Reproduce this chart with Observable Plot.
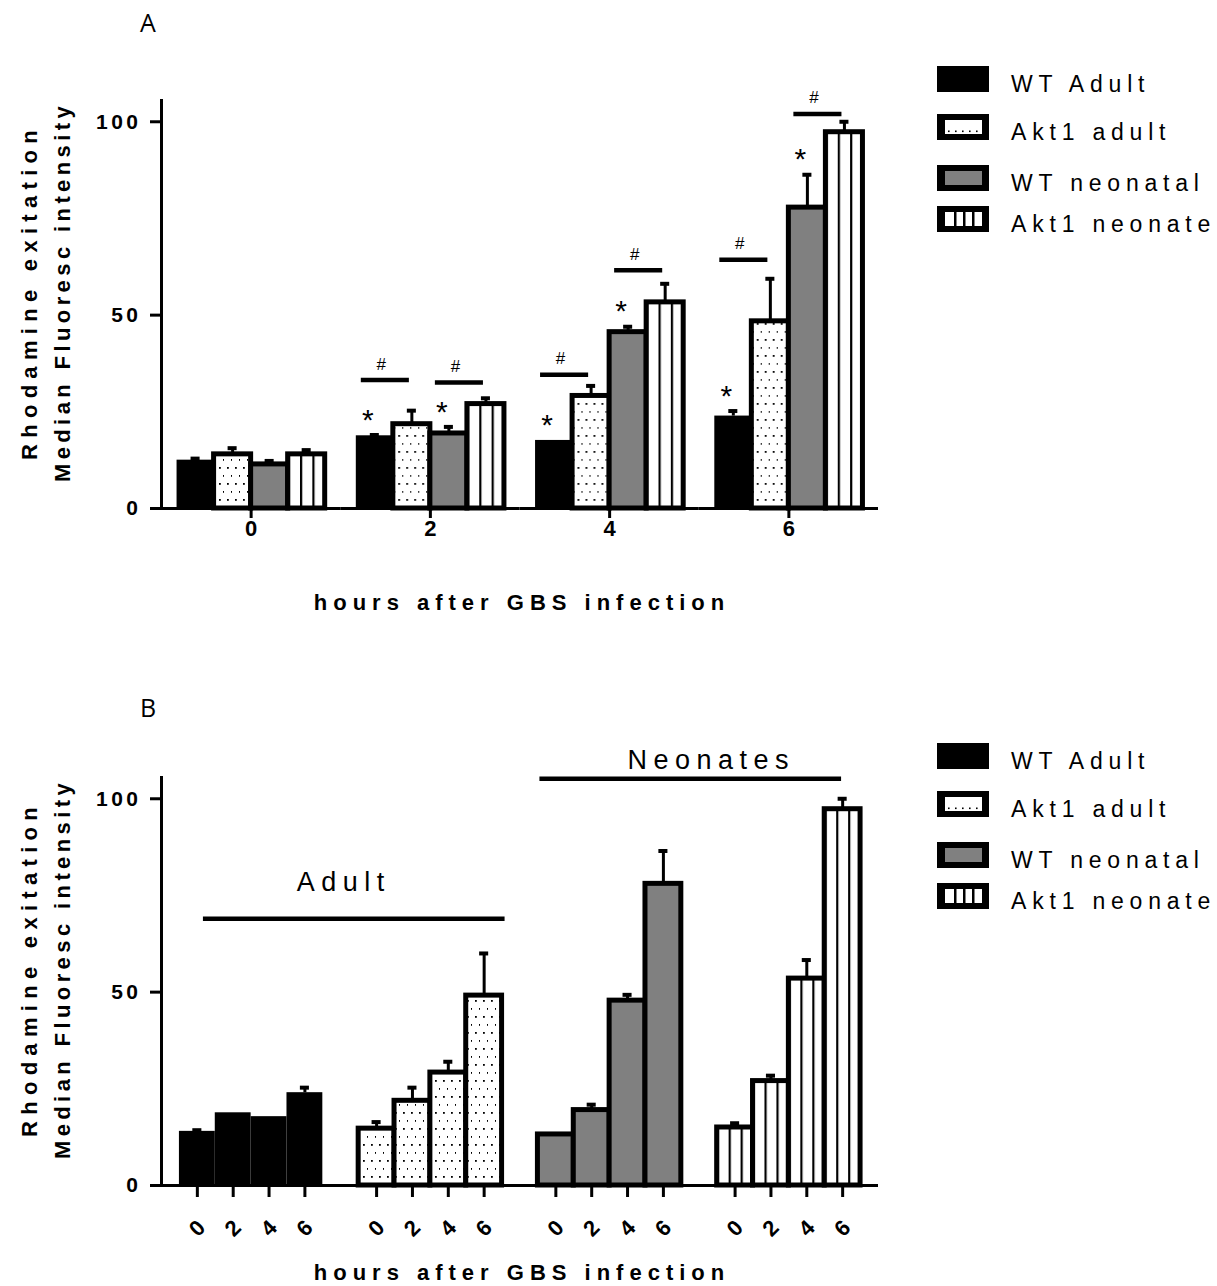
<!DOCTYPE html>
<html>
<head>
<meta charset="utf-8">
<script src="https://cdn.jsdelivr.net/npm/d3@7"></script>
<script src="https://cdn.jsdelivr.net/npm/@observablehq/plot@0.6"></script>
<style>
  html, body { margin: 0; padding: 0; background: #fff; }
  #root { position: relative; width: 1217px; height: 1286px; overflow: hidden; background: #fff; }
  #root > svg { position: absolute; left: 0; }
  svg text { font-family: "Liberation Sans", Arial, sans-serif; }
  g[aria-label="y-axis tick label"] { font-size: 21px; font-weight: bold; letter-spacing: 3.5px; }
  g[aria-label="fx-axis tick label"], g[aria-label="x-axis tick label"] { font-size: 22px; font-weight: bold; }
  #overlay { position: absolute; left: 0; top: 0; pointer-events: none; }
</style>
</head>
<body>
<svg width="0" height="0" style="position:absolute">
  <defs>
    <pattern id="dots" patternUnits="userSpaceOnUse" width="8" height="16">
      <rect width="8" height="16" fill="#fff"></rect>
      <rect x="3" y="3" width="1.8" height="1.8" fill="#000"></rect>
      <rect x="7" y="11" width="1.8" height="1.8" fill="#000"></rect>
    </pattern>
    <pattern id="vlines" patternUnits="objectBoundingBox" width="0.33333" height="1">
      <rect width="200" height="3000" fill="#fff"></rect>
      <rect x="0" width="2.2" height="3000" fill="#000"></rect>
    </pattern>
  </defs>
</svg>
<div id="root"></div>
<script>
// ---------------- data ----------------
const series = ["WT Adult", "Akt1 adult", "WT neonatal", "Akt1 neonate"];
const hours = [0, 2, 4, 6];
const yTicks = [0, 50, 100];

// Panel A: means and SEM (rows = series, columns = hours)
const meansA = [
  [12.5, 18.8, 17.6, 23.9],
  [14.0, 21.8, 29.1, 48.4],
  [11.4, 19.4, 45.6, 77.8],
  [14.0, 27.0, 53.3, 97.3]
];
const errorsA = [
  [0.4, 0.2, 0.0, 1.3],
  [1.6, 3.5, 2.6, 11.0],
  [0.9, 1.7, 1.4, 8.5],
  [1.1, 1.5, 4.8, 2.7]
];
// significance marks, panel A
const starsA = [
  ["WT Adult", 2], ["WT neonatal", 2],
  ["WT Adult", 4], ["WT neonatal", 4],
  ["WT Adult", 6], ["WT neonatal", 6]
];
const hashA = [
  {hours: 2, from: "WT Adult", to: "Akt1 adult", y: 33.2},
  {hours: 2, from: "WT neonatal", to: "Akt1 neonate", y: 32.6},
  {hours: 4, from: "WT Adult", to: "Akt1 adult", y: 34.6},
  {hours: 4, from: "WT neonatal", to: "Akt1 neonate", y: 61.6},
  {hours: 6, from: "WT Adult", to: "Akt1 adult", y: 64.3},
  {hours: 6, from: "WT neonatal", to: "Akt1 neonate", y: 102.0}
];

// Panel B: means and SEM (rows = series, columns = hours)
const meansB = [
  [14.0, 18.8, 17.8, 24.0],
  [14.7, 21.9, 29.2, 49.1],
  [13.2, 19.5, 47.8, 78.0],
  [15.0, 27.0, 53.5, 97.3]
];
const errorsB = [
  [0.3, 0.0, 0.0, 1.3],
  [1.7, 3.4, 2.8, 10.9],
  [0.0, 1.4, 1.5, 8.5],
  [1.1, 1.4, 4.8, 2.7]
];
const groupsB = [
  {label: "Adult", from: "WT Adult|0", to: "Akt1 adult|6", mid: "gap1", lineY: 69.0, textY: 76.2},
  {label: "Neonates", from: "WT neonatal|0", to: "Akt1 neonate|6", mid: "gap3", lineY: 105.2, textY: 107.8}
];

const yTitle = ["Rhodamine exitation", "Median Fluoresc intensity"];
const xTitle = "hours after GBS infection";
const panelLetters = ["A", "B"];

// ---------------- styles ----------------
const fills = {"WT Adult": "#000", "Akt1 adult": "url(#dots)", "WT neonatal": "#808080", "Akt1 neonate": "url(#vlines)"};
const font = '"Liberation Sans", Arial, sans-serif';
const panelOffset = 677;

// ---------------- helpers ----------------
function rowsFrom(means, errors) {
  return series.flatMap((s, si) => hours.map((h, hi) => ({
    series: s, hours: h, key: `${s}|${h}`, mean: means[si][hi], err: errors[si][hi]
  })));
}
const topOf = d => d.mean + d.err;

function barMarks(rows, xKey, facet, capInset) {
  const f = facet ? {fx: "hours"} : {};
  const withErr = rows.filter(d => d.err > 0);
  return [
    Plot.barY(rows.filter(d => d.series === series[0]), {...f, x: xKey, y: "mean", fill: "series"}),
    Plot.barY(rows.filter(d => d.series !== series[0]), {...f, x: xKey, y: "mean", fill: "series", stroke: "#000", strokeWidth: 5}),
    Plot.ruleX(withErr, {...f, x: xKey, y1: "mean", y2: topOf, stroke: "#000", strokeWidth: 3}),
    Plot.tickY(withErr, {...f, x: xKey, y: topOf, stroke: "#000", strokeWidth: 4, inset: capInset})
  ];
}
const colorScale = {type: "ordinal", domain: series, range: series.map(s => fills[s])};
const axisYMark = () => Plot.axisY({ticks: yTicks, tickSize: 11, tickPadding: 9, strokeWidth: 3, fontSize: 21, fontWeight: "bold", label: null});

// ---------------- panel A ----------------
const rowsA = rowsFrom(meansA, errorsA);
const starRowsA = starsA.map(([s, h]) => rowsA.find(d => d.series === s && d.hours === h));

const plotA = Plot.plot({
  width: 900, height: 553,
  marginLeft: 161, marginRight: 22, marginTop: 100, marginBottom: 45,
  fx: {domain: hours, padding: 0, round: false, label: null},
  x: {domain: series, paddingInner: 0, paddingOuter: 0.42, round: false, axis: null},
  y: {domain: [0, 105.5], label: null},
  color: colorScale,
  marks: [
    ...barMarks(rowsA, "series", true, 14),
    Plot.ruleY([0], {stroke: "#000", strokeWidth: 3}),
    Plot.frame({anchor: "left", stroke: "#000", strokeWidth: 3, facetAnchor: "left"}),
    axisYMark(),
    Plot.axisFx({anchor: "bottom", tickSize: 10, tickPadding: 2, strokeWidth: 3, fontSize: 22, fontWeight: "bold", label: null}),
    Plot.text(starRowsA, {fx: "hours", x: "series", y: topOf, text: () => "*", fontSize: 30, dx: -7, dy: -15}),
    Plot.ruleY(hashA, {fx: "hours", x1: "from", x2: "to", y: "y", stroke: "#000", strokeWidth: 4.5, insetLeft: 5, insetRight: 21}),
    Plot.text(hashA, {fx: "hours", x: "from", y: "y", text: () => "#", fontSize: 17, dx: 6.5, dy: -16})
  ]
});

// ---------------- panel B ----------------
const rowsB = rowsFrom(meansB, errorsB);
const keysB = series.flatMap((s, i) => (i ? [`gap${i}`] : []).concat(hours.map(h => `${s}|${h}`)));
const groupInsets = [[24, -3], [2, 19]];
const groupDx = [3, 12];

const plotB = Plot.plot({
  width: 900, height: 570,
  marginLeft: 161, marginRight: 22, marginTop: 100, marginBottom: 62,
  x: {domain: keysB, paddingInner: 0, paddingOuter: 0.5, round: false, axis: null},
  y: {domain: [0, 105.5], label: null},
  color: colorScale,
  marks: [
    ...barMarks(rowsB, "key", false, 13.4),
    Plot.ruleY([0], {stroke: "#000", strokeWidth: 3}),
    Plot.frame({anchor: "left", stroke: "#000", strokeWidth: 3}),
    axisYMark(),
    Plot.axisX({ticks: rowsB.map(d => d.key), tickFormat: k => k.split("|")[1], tickSize: 12, tickPadding: 31,
      tickRotate: -45, textAnchor: "middle", lineAnchor: "middle", strokeWidth: 3, fontSize: 22, fontWeight: "bold", label: null}),
    ...groupsB.flatMap((g, i) => [
      Plot.ruleY([g], {x1: "from", x2: "to", y: "lineY", stroke: "#000", strokeWidth: 4.5,
        insetLeft: groupInsets[i][0], insetRight: groupInsets[i][1]}),
      Plot.text([g], {x: "mid", y: "textY", text: "label", fontSize: 27, dx: groupDx[i], dy: -8.6})
    ])
  ]
});

// letter-spacing of the group labels
d3.select(plotB).selectAll("text")
  .filter(function () { return groupsB.some(g => g.label === this.textContent); })
  .style("letter-spacing", "6.5px");

const root = document.getElementById("root");
plotA.style.top = "0px";
plotB.style.top = panelOffset + "px";
root.appendChild(plotA);
root.appendChild(plotB);

// ---------------- overlay: panel letters, axis titles, legends ----------------
const ov = d3.select(root).append("svg").attr("id", "overlay").attr("width", 1217).attr("height", 1286);

[0, 1].forEach(p => {
  const off = p * panelOffset;
  ov.append("text").text(panelLetters[p])
    .attr("x", 140).attr("y", p === 0 ? 32 : 717)
    .style("font-family", '"Open Sans", sans-serif').style("font-size", "25px");

  // y title (two lines)
  yTitle.forEach((t, i) => {
    ov.append("text").text(t)
      .attr("transform", `translate(${i === 0 ? 37 : 70},${292 + off}) rotate(-90)`)
      .attr("text-anchor", "middle")
      .style("font-family", font).style("font-weight", "bold").style("font-size", "22px")
      .style("letter-spacing", i === 0 ? "6.3px" : "4.4px");
  });

  // x title
  ov.append("text").text(xTitle)
    .attr("x", 522).attr("y", (p === 0 ? 610 : 1280))
    .attr("text-anchor", "middle")
    .style("font-family", font).style("font-weight", "bold").style("font-size", "22px").style("letter-spacing", "6px");

  // legend
  const baselines = [92, 140, 191, 232];
  series.forEach((s, i) => {
    const b = baselines[i] + off;
    const g = ov.append("g");
    g.append("rect").attr("x", 937).attr("y", b - 26).attr("width", 52).attr("height", 26).attr("fill", "#000");
    if (i > 0) {
      g.append("rect").attr("x", 945).attr("y", b - 20).attr("width", 37).attr("height", 14)
        .attr("fill", i === 2 ? "#808080" : "#fff");
    }
    if (i === 1) {
      d3.range(5).forEach(k => g.append("rect").attr("x", 948 + k * 7).attr("y", b - 9.5).attr("width", 1.6).attr("height", 1.6).attr("fill", "#000"));
    }
    if (i === 3) {
      [954, 963, 972].forEach(x => g.append("rect").attr("x", x).attr("y", b - 20).attr("width", 2.5).attr("height", 14).attr("fill", "#000"));
    }
    g.append("text").text(s).attr("x", 1011).attr("y", b)
      .style("font-family", font).style("font-size", "23px").style("letter-spacing", "5.8px");
  });
});
</script>
</body>
</html>
